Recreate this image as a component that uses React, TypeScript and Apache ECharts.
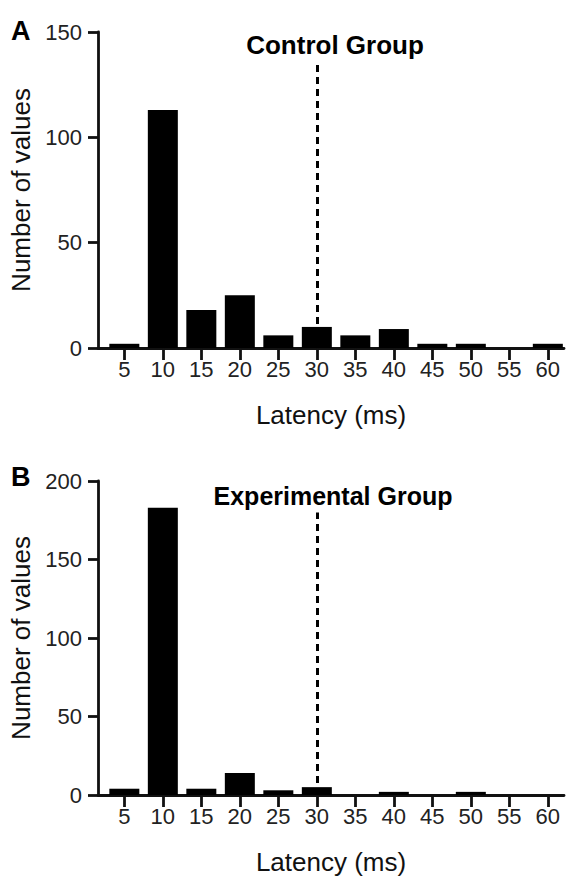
import React, { useEffect, useRef } from "react";
import * as echarts from "echarts";

const latencyBins = [5, 10, 15, 20, 25, 30, 35, 40, 45, 50, 55, 60];
const controlCounts = [2, 113, 18, 25, 6, 10, 6, 9, 2, 2, 0, 2];
const experimentalCounts = [4, 183, 4, 14, 3, 5, 0, 2, 0, 2, 0, 0];
const controlYTicks = { max: 150, interval: 50 };
const experimentalYTicks = { max: 200, interval: 50 };
const thresholdLatency = 30;
const controlThresholdTop = 135;
const experimentalThresholdTop = 180;
const panelTitles = ["Control Group", "Experimental Group"];
const panelLetters = ["A", "B"];
const xAxisName = "Latency (ms)";
const yAxisName = "Number of values";

const FONT = "'Liberation Sans', Arial, Helvetica, sans-serif";
const INK = "#111";

export default function App() {
  const ref = useRef<HTMLDivElement>(null);

  useEffect(() => {
    if (!ref.current) return;
    const chart = echarts.init(ref.current, undefined, { renderer: "svg" });

    const grids = [
      { left: 98, right: 4, top: 32, height: 316 },
      { left: 98, right: 4, top: 481, height: 314 },
    ];

    const makeX = (gridIndex: number) => ({
      type: "value",
      gridIndex,
      min: 1.58,
      max: 62.1,
      name: xAxisName,
      nameLocation: "middle",
      nameGap: 54,
      nameTextStyle: { fontFamily: FONT, fontSize: 26, color: INK },
      axisLine: { show: true, lineStyle: { color: INK, width: 2.8 } },
      axisTick: {
        show: true,
        length: 12,
        customValues: latencyBins,
        lineStyle: { color: INK, width: 2.8 },
      },
      axisLabel: {
        customValues: latencyBins,
        margin: 10,
        fontFamily: FONT,
        fontSize: 22,
        color: "#222",
      },
      splitLine: { show: false },
    });

    const makeY = (gridIndex: number, ticks: { max: number; interval: number }) => ({
      type: "value",
      gridIndex,
      min: 0,
      max: ticks.max,
      interval: ticks.interval,
      name: yAxisName,
      nameLocation: "middle",
      nameRotate: 90,
      nameGap: 62,
      nameTextStyle: { fontFamily: FONT, fontSize: 26, color: INK },
      axisLine: { show: true, lineStyle: { color: INK, width: 2.8 } },
      axisTick: { show: true, length: 10, lineStyle: { color: INK, width: 2.8 } },
      axisLabel: { margin: 16, fontFamily: FONT, fontSize: 22, color: "#222" },
      splitLine: { show: false },
    });

    const makeSeries = (idx: number, counts: number[], top: number) => ({
      type: "bar",
      xAxisIndex: idx,
      yAxisIndex: idx,
      barWidth: 30,
      itemStyle: { color: "#000" },
      data: latencyBins.map((b, i) => [b, counts[i]]),
      markLine: {
        silent: true,
        symbol: "none",
        label: { show: false },
        lineStyle: { color: "#000", type: [7, 5], width: 3 },
        data: [[{ coord: [thresholdLatency, 0] }, { coord: [thresholdLatency, top] }]],
      },
    });

    const textEl = (x: number, y: number, text: string, size: number, align: string) => ({
      type: "text",
      x,
      y,
      style: {
        text,
        fontFamily: FONT,
        fontSize: size,
        fontWeight: "bold",
        fill: "#000",
        align,
        verticalAlign: "middle",
      },
    });

    chart.setOption({
      animation: false,
      backgroundColor: "#fff",
      grid: grids,
      xAxis: [makeX(0), makeX(1)],
      yAxis: [makeY(0, controlYTicks), makeY(1, experimentalYTicks)],
      series: [
        makeSeries(0, controlCounts, controlThresholdTop),
        makeSeries(1, experimentalCounts, experimentalThresholdTop),
      ],
      graphic: [
        textEl(335, 45, panelTitles[0], 26, "center"),
        textEl(333, 496, panelTitles[1], 25, "center"),
        textEl(11, 31, panelLetters[0], 27, "left"),
        textEl(11, 477, panelLetters[1], 27, "left"),
      ],
    });

    return () => chart.dispose();
  }, []);

  return (
    <div
      ref={ref}
      style={{ position: "absolute", left: 0, top: 0, width: 568, height: 876, background: "#fff" }}
    />
  );
}
